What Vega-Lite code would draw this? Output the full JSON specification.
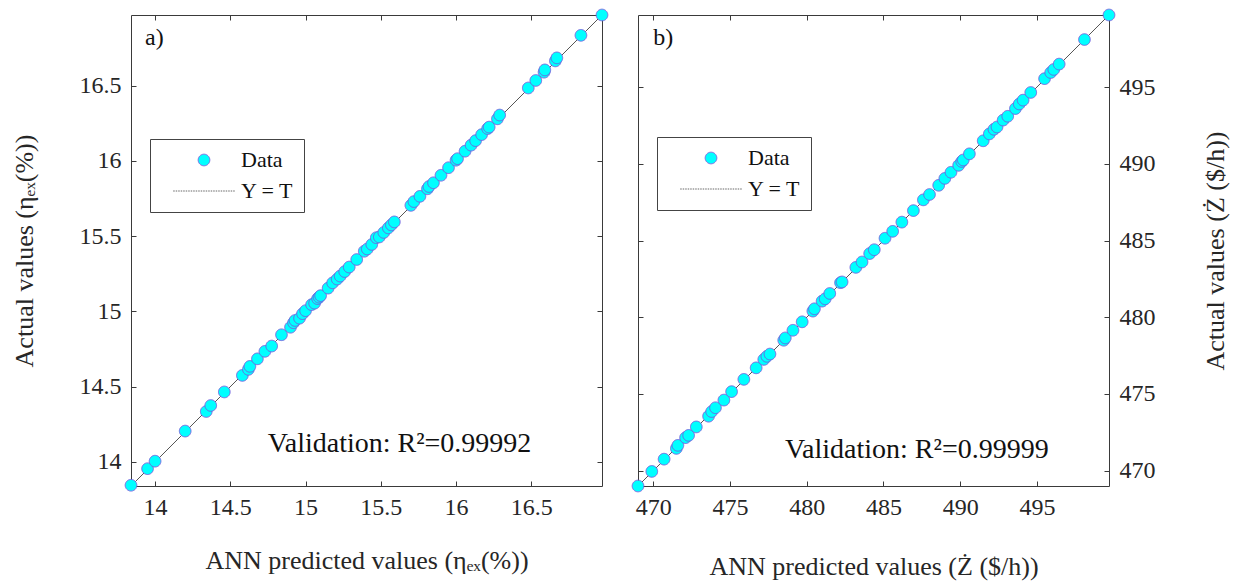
{
  "$schema": "https://vega.github.io/schema/vega-lite/v6.json",
  "background": "white",
  "padding": {"left": 10, "top": 6, "right": 5, "bottom": 5},
  "datasets": {
    "eta": [
      {"pred": 13.84, "actual": 13.845}, {"pred": 13.95, "actual": 13.955}, {"pred": 14.0, "actual": 14.005},
      {"pred": 14.2, "actual": 14.205}, {"pred": 14.34, "actual": 14.335}, {"pred": 14.37, "actual": 14.375},
      {"pred": 14.46, "actual": 14.465}, {"pred": 14.58, "actual": 14.575}, {"pred": 14.62, "actual": 14.615},
      {"pred": 14.63, "actual": 14.635}, {"pred": 14.68, "actual": 14.685}, {"pred": 14.73, "actual": 14.735},
      {"pred": 14.775, "actual": 14.77}, {"pred": 14.84, "actual": 14.845}, {"pred": 14.9, "actual": 14.895},
      {"pred": 14.92, "actual": 14.925}, {"pred": 14.93, "actual": 14.94}, {"pred": 14.96, "actual": 14.955},
      {"pred": 14.98, "actual": 14.985}, {"pred": 15.0, "actual": 15.005}, {"pred": 15.04, "actual": 15.045},
      {"pred": 15.06, "actual": 15.055}, {"pred": 15.08, "actual": 15.085}, {"pred": 15.09, "actual": 15.095},
      {"pred": 15.1, "actual": 15.105}, {"pred": 15.15, "actual": 15.155}, {"pred": 15.18, "actual": 15.19},
      {"pred": 15.21, "actual": 15.215}, {"pred": 15.23, "actual": 15.235}, {"pred": 15.26, "actual": 15.265},
      {"pred": 15.29, "actual": 15.295}, {"pred": 15.34, "actual": 15.345}, {"pred": 15.39, "actual": 15.4},
      {"pred": 15.41, "actual": 15.415}, {"pred": 15.44, "actual": 15.445}, {"pred": 15.47, "actual": 15.49},
      {"pred": 15.49, "actual": 15.495}, {"pred": 15.52, "actual": 15.525}, {"pred": 15.55, "actual": 15.555},
      {"pred": 15.57, "actual": 15.575}, {"pred": 15.59, "actual": 15.595}, {"pred": 15.7, "actual": 15.705},
      {"pred": 15.72, "actual": 15.73}, {"pred": 15.76, "actual": 15.765}, {"pred": 15.81, "actual": 15.815},
      {"pred": 15.82, "actual": 15.83}, {"pred": 15.85, "actual": 15.855}, {"pred": 15.9, "actual": 15.905},
      {"pred": 15.95, "actual": 15.955}, {"pred": 16.0, "actual": 16.005}, {"pred": 16.01, "actual": 16.015},
      {"pred": 16.06, "actual": 16.065}, {"pred": 16.1, "actual": 16.105}, {"pred": 16.13, "actual": 16.135},
      {"pred": 16.17, "actual": 16.175}, {"pred": 16.21, "actual": 16.215}, {"pred": 16.22, "actual": 16.225},
      {"pred": 16.275, "actual": 16.28}, {"pred": 16.29, "actual": 16.305}, {"pred": 16.48, "actual": 16.485},
      {"pred": 16.53, "actual": 16.535}, {"pred": 16.585, "actual": 16.59}, {"pred": 16.59, "actual": 16.605},
      {"pred": 16.66, "actual": 16.665}, {"pred": 16.67, "actual": 16.685}, {"pred": 16.83, "actual": 16.835},
      {"pred": 16.97, "actual": 16.97}
    ],
    "zdot": [
      {"pred": 469.0, "actual": 469.0}, {"pred": 469.9, "actual": 469.95}, {"pred": 470.7, "actual": 470.75},
      {"pred": 471.5, "actual": 471.45}, {"pred": 471.6, "actual": 471.65}, {"pred": 472.1, "actual": 472.15},
      {"pred": 472.3, "actual": 472.3}, {"pred": 472.8, "actual": 472.85}, {"pred": 473.6, "actual": 473.55},
      {"pred": 473.8, "actual": 473.85}, {"pred": 474.05, "actual": 474.1}, {"pred": 474.6, "actual": 474.6},
      {"pred": 475.1, "actual": 475.15}, {"pred": 475.9, "actual": 475.95}, {"pred": 476.7, "actual": 476.7},
      {"pred": 477.2, "actual": 477.25}, {"pred": 477.4, "actual": 477.45}, {"pred": 477.6, "actual": 477.6},
      {"pred": 478.5, "actual": 478.5}, {"pred": 478.6, "actual": 478.65}, {"pred": 479.1, "actual": 479.15},
      {"pred": 479.7, "actual": 479.7}, {"pred": 480.4, "actual": 480.4}, {"pred": 480.5, "actual": 480.55},
      {"pred": 481.0, "actual": 481.05}, {"pred": 481.2, "actual": 481.2}, {"pred": 481.5, "actual": 481.55},
      {"pred": 482.2, "actual": 482.25}, {"pred": 482.3, "actual": 482.3}, {"pred": 483.2, "actual": 483.25},
      {"pred": 483.6, "actual": 483.6}, {"pred": 484.1, "actual": 484.15}, {"pred": 484.4, "actual": 484.4},
      {"pred": 485.1, "actual": 485.15}, {"pred": 485.6, "actual": 485.6}, {"pred": 486.2, "actual": 486.2},
      {"pred": 486.95, "actual": 486.95}, {"pred": 487.6, "actual": 487.65}, {"pred": 488.0, "actual": 488.0},
      {"pred": 488.6, "actual": 488.6}, {"pred": 489.0, "actual": 489.05}, {"pred": 489.4, "actual": 489.45},
      {"pred": 489.9, "actual": 489.9}, {"pred": 490.1, "actual": 490.15}, {"pred": 490.2, "actual": 490.25},
      {"pred": 490.6, "actual": 490.65}, {"pred": 491.5, "actual": 491.5}, {"pred": 491.9, "actual": 491.95},
      {"pred": 492.2, "actual": 492.25}, {"pred": 492.4, "actual": 492.4}, {"pred": 492.8, "actual": 492.85},
      {"pred": 493.1, "actual": 493.1}, {"pred": 493.6, "actual": 493.6}, {"pred": 493.85, "actual": 493.9},
      {"pred": 494.1, "actual": 494.15}, {"pred": 494.6, "actual": 494.65}, {"pred": 495.5, "actual": 495.55},
      {"pred": 495.9, "actual": 495.95}, {"pred": 496.1, "actual": 496.15}, {"pred": 496.45, "actual": 496.5},
      {"pred": 498.1, "actual": 498.1}, {"pred": 499.7, "actual": 499.7}
    ]
  },
  "config": {
    "font": "Liberation Serif",
    "view": {"stroke": "#3a3a3a", "strokeWidth": 1},
    "axis": {
      "grid": false, "domain": false,
      "labelFont": "Liberation Serif", "labelFontSize": 24, "labelColor": "#262626",
      "titleFont": "Liberation Serif", "titleFontSize": 26, "titleFontWeight": "normal", "titleColor": "#262626",
      "tickColor": "#3a3a3a", "tickSize": -5, "labelPadding": 12
    },
    "legend": {
      "labelFont": "Liberation Serif", "labelFontSize": 22, "labelColor": "#111",
      "padding": 10, "fillColor": "white", "strokeColor": "#444",
      "symbolSize": 135, "symbolOffset": 33, "labelOffset": 26, "rowPadding": 9, "symbolStrokeWidth": 1
    },
    "text": {"font": "Liberation Serif", "color": "#111"}
  },
  "spacing": 36,
  "bounds": "flush",
  "resolve": {
    "scale": {"shape": "independent", "fill": "independent", "stroke": "independent", "strokeDash": "independent"},
    "legend": {"shape": "independent", "fill": "independent", "stroke": "independent", "strokeDash": "independent"}
  },
  "hconcat": [
    {
      "width": 471, "height": 471,
      "data": {"name": "eta"},
      "resolve": {"axis": {"x": "independent", "y": "independent"}},
      "layer": [
        {
          "mark": {"type": "line", "color": "#555", "strokeWidth": 1},
          "encoding": {
            "x": {"field": "pred", "type": "quantitative", "scale": {"domain": [13.84, 16.97], "nice": false, "zero": false},
                  "axis": {"orient": "top", "values": [14, 14.5, 15, 15.5, 16, 16.5], "labels": false, "title": null}},
            "y": {"field": "pred", "type": "quantitative", "scale": {"domain": [13.84, 16.97], "nice": false, "zero": false},
                  "axis": {"orient": "right", "values": [14, 14.5, 15, 15.5, 16, 16.5], "labels": false, "title": null}}
          }
        },
        {
          "mark": {"type": "point", "filled": true, "opacity": 1, "strokeWidth": 1, "size": 135},
          "encoding": {
            "x": {"field": "pred", "type": "quantitative",
                  "axis": {"orient": "bottom", "values": [14, 14.5, 15, 15.5, 16, 16.5], "labelExpr": "'' + datum.value", "labelPadding": 14, "titlePadding": 28,
                           "labelFont": "Liberation Serif", "titleFont": "Liberation Serif", "labelFontSize": 24, "titleFontSize": 26,
                           "title": "ANN predicted values (ηₑₓ(%))"}},
            "y": {"field": "actual", "type": "quantitative",
                  "axis": {"orient": "left", "values": [14, 14.5, 15, 15.5, 16, 16.5], "labelExpr": "'' + datum.value", "labelPadding": 15, "titlePadding": 42,
                           "labelFont": "Liberation Serif", "titleFont": "Liberation Serif", "labelFontSize": 24, "titleFontSize": 26,
                           "title": "Actual values (ηₑₓ(%))"}},
            "shape": {"datum": "Data", "type": "nominal", "scale": {"domain": ["Data", "Y = T"], "range": ["circle", "M-5.3,0H5.3"]},
                      "legend": {"orient": "none", "legendX": 19, "legendY": 124, "title": null}},
            "fill": {"datum": "Data", "type": "nominal", "scale": {"domain": ["Data", "Y = T"], "range": ["#00ffff", "transparent"]},
                     "legend": {"orient": "none", "legendX": 19, "legendY": 124, "title": null}},
            "stroke": {"datum": "Data", "type": "nominal", "scale": {"domain": ["Data", "Y = T"], "range": ["#7060e0", "#666666"]},
                       "legend": {"orient": "none", "legendX": 19, "legendY": 124, "title": null}},
            "strokeDash": {"datum": "Data", "type": "nominal", "scale": {"domain": ["Data", "Y = T"], "range": [[1, 0], [1.5, 1]]},
                       "legend": {"orient": "none", "legendX": 19, "legendY": 124, "title": null}}
          }
        },
        {
          "data": {"values": [{}]},
          "mark": {"type": "text", "align": "left", "baseline": "alphabetic", "fontSize": 24},
          "encoding": {
            "x": {"datum": 13.933, "type": "quantitative", "axis": null},
            "y": {"datum": 16.769, "type": "quantitative", "axis": null},
            "text": {"value": "a)"}
          }
        },
        {
          "data": {"values": [{}]},
          "mark": {"type": "text", "align": "left", "baseline": "alphabetic", "fontSize": 28},
          "encoding": {
            "x": {"datum": 14.748, "type": "quantitative", "axis": null},
            "y": {"datum": 14.064, "type": "quantitative", "axis": null},
            "text": {"value": "Validation: R²=0.99992"}
          }
        }
      ]
    },
    {
      "width": 471, "height": 471,
      "data": {"name": "zdot"},
      "resolve": {"axis": {"x": "independent", "y": "independent"}},
      "layer": [
        {
          "mark": {"type": "line", "color": "#555", "strokeWidth": 1},
          "encoding": {
            "x": {"field": "pred", "type": "quantitative", "scale": {"domain": [469.0, 499.7], "nice": false, "zero": false},
                  "axis": {"orient": "top", "values": [470, 475, 480, 485, 490, 495], "labels": false, "title": null}},
            "y": {"field": "pred", "type": "quantitative", "scale": {"domain": [469.0, 499.7], "nice": false, "zero": false},
                  "axis": {"orient": "left", "values": [470, 475, 480, 485, 490, 495], "labels": false, "title": null}}
          }
        },
        {
          "mark": {"type": "point", "filled": true, "opacity": 1, "strokeWidth": 1, "size": 135},
          "encoding": {
            "x": {"field": "pred", "type": "quantitative",
                  "axis": {"orient": "bottom", "values": [470, 475, 480, 485, 490, 495], "labelExpr": "'' + datum.value", "labelPadding": 14, "titlePadding": 34,
                           "labelFont": "Liberation Serif", "titleFont": "Liberation Serif", "labelFontSize": 24, "titleFontSize": 26,
                           "title": "ANN predicted values (Ż ($/h))"}},
            "y": {"field": "actual", "type": "quantitative",
                  "axis": {"orient": "right", "values": [470, 475, 480, 485, 490, 495], "labelExpr": "'' + datum.value", "labelPadding": 15, "titlePadding": 47,
                           "labelFont": "Liberation Serif", "titleFont": "Liberation Serif", "labelFontSize": 24, "titleFontSize": 26,
                           "titleAngle": 270, "titleBaseline": "top",
                           "title": "Actual values (Ż ($/h))"}},
            "shape": {"datum": "Data", "type": "nominal", "scale": {"domain": ["Data", "Y = T"], "range": ["circle", "M-5.3,0H5.3"]},
                      "legend": {"orient": "none", "legendX": 19, "legendY": 122, "title": null}},
            "fill": {"datum": "Data", "type": "nominal", "scale": {"domain": ["Data", "Y = T"], "range": ["#00ffff", "transparent"]},
                     "legend": {"orient": "none", "legendX": 19, "legendY": 122, "title": null}},
            "stroke": {"datum": "Data", "type": "nominal", "scale": {"domain": ["Data", "Y = T"], "range": ["#7060e0", "#666666"]},
                       "legend": {"orient": "none", "legendX": 19, "legendY": 122, "title": null}},
            "strokeDash": {"datum": "Data", "type": "nominal", "scale": {"domain": ["Data", "Y = T"], "range": [[1, 0], [1.5, 1]]},
                       "legend": {"orient": "none", "legendX": 19, "legendY": 122, "title": null}}
          }
        },
        {
          "data": {"values": [{}]},
          "mark": {"type": "text", "align": "left", "baseline": "alphabetic", "fontSize": 24},
          "encoding": {
            "x": {"datum": 470.0, "type": "quantitative", "axis": null},
            "y": {"datum": 497.72, "type": "quantitative", "axis": null},
            "text": {"value": "b)"}
          }
        },
        {
          "data": {"values": [{}]},
          "mark": {"type": "text", "align": "left", "baseline": "alphabetic", "fontSize": 28},
          "encoding": {
            "x": {"datum": 478.58, "type": "quantitative", "axis": null},
            "y": {"datum": 470.85, "type": "quantitative", "axis": null},
            "text": {"value": "Validation: R²=0.99999"}
          }
        }
      ]
    }
  ]
}
